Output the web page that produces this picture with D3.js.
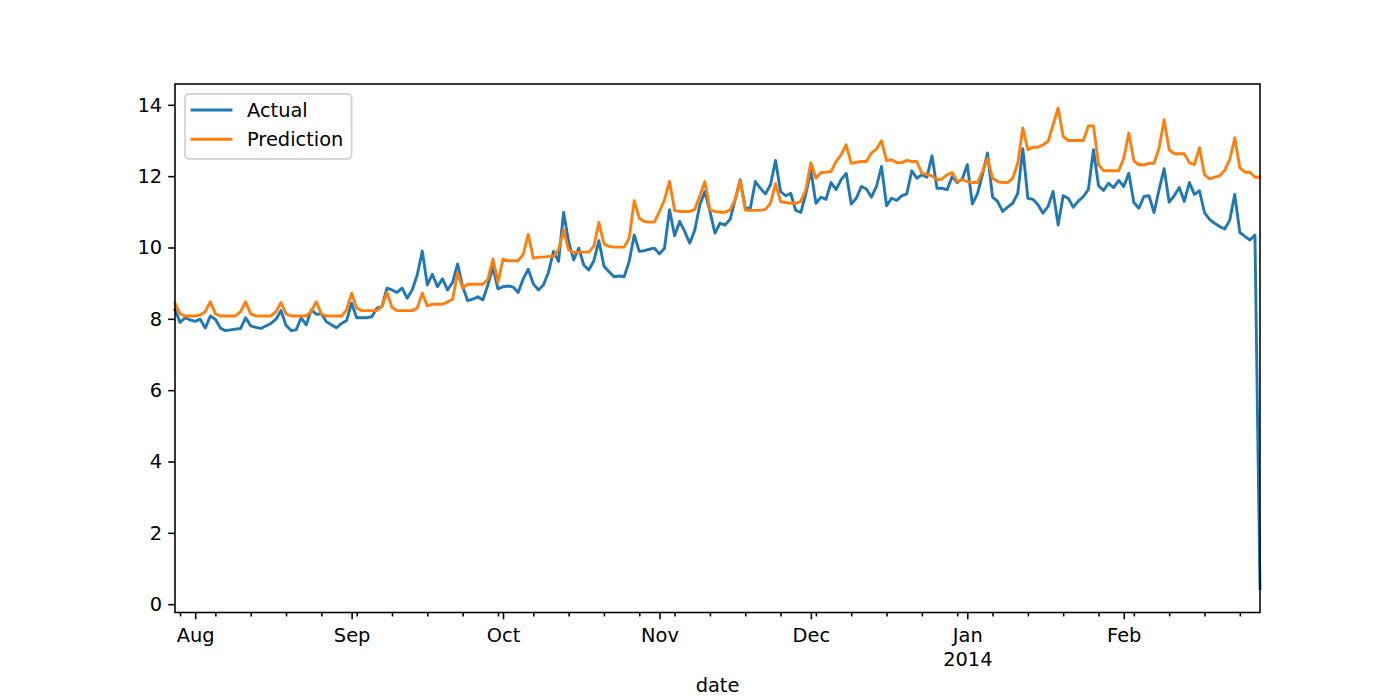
<!DOCTYPE html>
<html>
<head>
<meta charset="utf-8">
<script src="https://cdn.jsdelivr.net/npm/d3@7"></script>
<style>
  body { margin: 0; background: #fff; }
  svg text { font-family: "DejaVu Sans", sans-serif; font-size: 19.4px; fill: #000; }
</style>
</head>
<body>
<svg id="chart" width="1400" height="700"></svg>
<script>
// daily series, first day below, one value per day
const startDate = "2013-07-28"
const actual = [
  8.25, 7.90, 8.03, 7.97, 7.93, 7.99, 7.74, 8.08, 7.99, 7.74, 7.67, 7.69, 7.71, 7.73,
  8.03, 7.80, 7.76, 7.73, 7.80, 7.87, 7.99, 8.23, 7.82, 7.67, 7.69, 8.03, 7.83, 8.25,
  8.13, 8.14, 7.92, 7.83, 7.75, 7.87, 7.95, 8.44, 8.03, 8.03, 8.03, 8.06, 8.30, 8.34,
  8.86, 8.81, 8.74, 8.86, 8.58, 8.81, 9.23, 9.90, 8.95, 9.25, 8.90, 9.12, 8.81, 9.02,
  9.54, 8.90, 8.51, 8.55, 8.62, 8.53, 8.95, 9.44, 8.84, 8.90, 8.92, 8.89, 8.74, 9.12,
  9.39, 8.98, 8.81, 8.95, 9.30, 9.89, 9.61, 10.98, 10.17, 9.65, 9.98, 9.51, 9.37, 9.63,
  10.19, 9.48, 9.32, 9.18, 9.20, 9.18, 9.61, 10.35, 9.89, 9.91, 9.95, 9.98, 9.82, 9.98,
  11.06, 10.33, 10.73, 10.45, 10.12, 10.49, 11.20, 11.57, 11.01, 10.40, 10.68, 10.63, 10.79, 11.34,
  11.90, 11.10, 11.10, 11.85, 11.66, 11.50, 11.76, 12.44, 11.57, 11.45, 11.52, 11.04, 10.98, 11.50,
  12.16, 11.24, 11.41, 11.35, 11.82, 11.62, 11.90, 12.08, 11.22, 11.38, 11.71, 11.64, 11.41, 11.71,
  12.27, 11.17, 11.38, 11.32, 11.45, 11.50, 12.15, 11.94, 12.04, 11.97, 12.57, 11.66, 11.66, 11.62,
  11.99, 11.82, 11.92, 12.32, 11.22, 11.50, 12.04, 12.65, 11.41, 11.29, 11.01, 11.13, 11.24, 11.52,
  12.77, 11.38, 11.35, 11.20, 10.96, 11.15, 11.57, 10.63, 11.45, 11.38, 11.13, 11.30, 11.43, 11.63,
  12.74, 11.73, 11.60, 11.80, 11.68, 11.88, 11.71, 12.08, 11.26, 11.10, 11.43, 11.45, 10.98, 11.62,
  12.21, 11.27, 11.45, 11.68, 11.29, 11.82, 11.49, 11.59, 10.98, 10.79, 10.68, 10.59, 10.52, 10.76,
  11.49, 10.42, 10.31, 10.21, 10.35, 0.44
]
const prediction = [
  8.44, 8.14, 8.08, 8.08, 8.08, 8.11, 8.20, 8.48, 8.14, 8.08, 8.08, 8.08, 8.08, 8.20,
  8.48, 8.14, 8.08, 8.08, 8.08, 8.08, 8.20, 8.46, 8.14, 8.08, 8.08, 8.08, 8.08, 8.20,
  8.48, 8.14, 8.08, 8.08, 8.08, 8.08, 8.25, 8.72, 8.30, 8.23, 8.23, 8.23, 8.23, 8.34,
  8.74, 8.32, 8.23, 8.23, 8.23, 8.23, 8.30, 8.72, 8.36, 8.41, 8.41, 8.41, 8.47, 8.55,
  9.28, 8.86, 8.97, 8.97, 8.97, 8.97, 9.11, 9.68, 9.02, 9.67, 9.63, 9.63, 9.63, 9.81,
  10.37, 9.70, 9.73, 9.73, 9.75, 9.75, 9.93, 10.49, 9.93, 9.86, 9.87, 9.87, 9.87, 10.04,
  10.70, 10.10, 10.03, 10.01, 10.01, 10.01, 10.26, 11.31, 10.82, 10.73, 10.71, 10.71, 11.01, 11.34,
  11.85, 11.04, 11.01, 11.01, 11.01, 11.07, 11.45, 11.85, 11.05, 11.01, 10.99, 10.99, 11.05, 11.34,
  11.88, 11.05, 11.04, 11.04, 11.04, 11.07, 11.24, 11.79, 11.29, 11.26, 11.24, 11.24, 11.29, 11.62,
  12.38, 11.94, 12.10, 12.11, 12.13, 12.41, 12.60, 12.88, 12.36, 12.39, 12.41, 12.41, 12.65, 12.76,
  12.99, 12.44, 12.46, 12.38, 12.38, 12.44, 12.41, 12.41, 12.08, 12.05, 12.01, 11.90, 11.92, 12.04,
  12.10, 11.85, 11.90, 11.85, 11.82, 11.82, 12.13, 12.50, 11.94, 11.85, 11.82, 11.82, 11.94, 12.36,
  13.35, 12.74, 12.81, 12.81, 12.88, 12.97, 13.44, 13.91, 13.11, 13.00, 13.00, 13.00, 13.00, 13.41,
  13.41, 12.32, 12.15, 12.15, 12.15, 12.15, 12.50, 13.21, 12.43, 12.32, 12.32, 12.36, 12.36, 12.79,
  13.58, 12.74, 12.63, 12.63, 12.63, 12.38, 12.32, 12.80, 12.04, 11.92, 11.97, 12.01, 12.16, 12.46,
  13.07, 12.24, 12.11, 12.11, 11.97, 11.97
]
const yTicks = [0, 2, 4, 6, 8, 10, 12, 14]
const monthLabels = ["Jan", "Feb", "Mar", "Apr", "May", "Jun", "Jul", "Aug", "Sep", "Oct", "Nov", "Dec"]
const seriesNames = ["Actual", "Prediction"]
const seriesColors = ["#1f77b4", "#ff7f0e"]
const xLabel = "date"

let svg = d3.select("#chart"),
    plotLeft = 175, plotRight = 1260, plotTop = 84, plotBottom = 612.5,
    majorLen = 6.8, minorLen = 3.9, lw = 1.56

svg.append("rect").attr("width", 1400).attr("height", 700).attr("fill", "#fff")

let parse = d3.utcParse("%Y-%m-%d")
let dates = actual.map((d, i) => d3.utcDay.offset(parse(startDate), i))

let x = d3.scaleUtc().domain(d3.extent(dates)).range([plotLeft, plotRight])

// matplotlib style 5% margins
let all = actual.concat(prediction)
let lo = d3.min(all), hi = d3.max(all), pad = (hi - lo) * 0.05
let y = d3.scaleLinear().domain([lo - pad, hi + pad]).range([plotBottom, plotTop])

// lines
let line = d3.line().x((d, i) => x(dates[i])).y(d => y(d))
;[actual, prediction].forEach((s, k) => {
  svg.append("path")
    .datum(s)
    .attr("d", line)
    .attr("fill", "none")
    .attr("stroke", seriesColors[k])
    .attr("stroke-width", 2.9)
    .attr("stroke-linejoin", "round")
    .attr("stroke-linecap", "square")
})

// x axis: months major, mondays minor
let dEnd = d3.utcDay.offset(x.domain()[1], 1)
let minor = d3.utcMonday.range(x.domain()[0], dEnd)
let major = d3.utcMonth.range(x.domain()[0], dEnd)

let gxMinor = svg.append("g").attr("transform", "translate(0," + plotBottom + ")")
  .call(d3.axisBottom(x).tickValues(minor).tickSize(minorLen).tickSizeOuter(0).tickFormat(""))
let gx = svg.append("g").attr("transform", "translate(0," + plotBottom + ")")
  .call(d3.axisBottom(x).tickValues(major).tickSize(majorLen).tickSizeOuter(0)
    .tickFormat(d => monthLabels[d.getUTCMonth()]))
gx.selectAll(".tick text").attr("dy", null).attr("y", 29.8)
gx.selectAll(".tick text").filter(d => d.getUTCMonth() == 0)
  .append("tspan").attr("x", 0).attr("dy", 23.3).text(d => d.getUTCFullYear())

// y axis
let gy = svg.append("g").attr("transform", "translate(" + plotLeft + ",0)")
  .call(d3.axisLeft(y).tickValues(yTicks).tickSize(majorLen).tickPadding(6).tickSizeOuter(0))
gy.selectAll(".tick text").attr("dy", "0.33em")

svg.selectAll(".domain").remove()
svg.selectAll(".tick line").attr("stroke", "#000").attr("stroke-width", lw)
svg.selectAll(".tick text").style("font-size", "19.4px").attr("fill", "#000")

// spines
svg.append("rect")
  .attr("x", plotLeft).attr("y", plotTop)
  .attr("width", plotRight - plotLeft).attr("height", plotBottom - plotTop)
  .attr("fill", "none").attr("stroke", "#000").attr("stroke-width", lw)

svg.append("text")
  .attr("x", (plotLeft + plotRight) / 2).attr("y", 692.3)
  .attr("text-anchor", "middle")
  .text(xLabel)

// legend
let legend = svg.append("g")
legend.append("rect")
  .attr("x", 185).attr("y", 94).attr("width", 166.5).attr("height", 65)
  .attr("rx", 4).attr("ry", 4)
  .attr("fill", "#fff").attr("fill-opacity", 0.8)
  .attr("stroke", "#cccccc").attr("stroke-opacity", 0.8).attr("stroke-width", 1.9)

seriesNames.forEach((name, k) => {
  let ly = 110 + k * 29.3
  legend.append("line")
    .attr("x1", 192).attr("x2", 231).attr("y1", ly).attr("y2", ly)
    .attr("stroke", seriesColors[k]).attr("stroke-width", 2.9).attr("stroke-linecap", "square")
  legend.append("text")
    .attr("x", 247).attr("y", ly + 7)
    .text(name)
})
</script>
</body>
</html>
